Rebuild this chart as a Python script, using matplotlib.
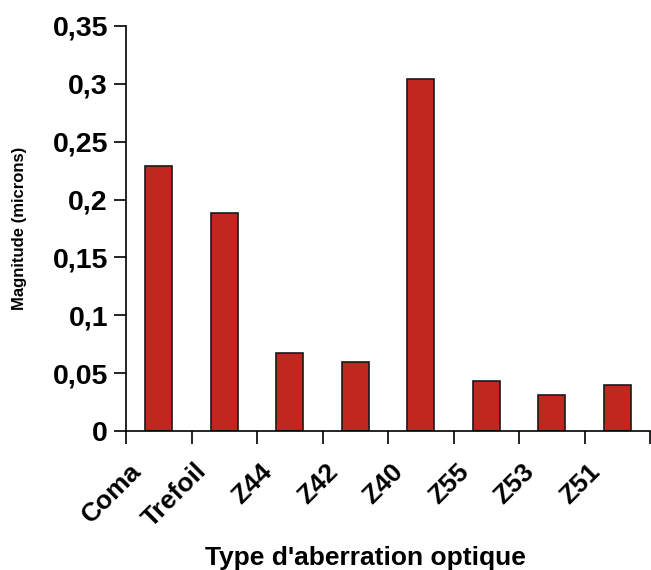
import matplotlib.pyplot as plt
import matplotlib.transforms as mtransforms
from matplotlib.ticker import FixedLocator

# données
categories = ['Coma', 'Trefoil', 'Z44', 'Z42', 'Z40', 'Z55', 'Z53', 'Z51']
magnitudes = [0.229, 0.188, 0.067, 0.060, 0.304, 0.043, 0.031, 0.040]
y_ticks = [0, 0.05, 0.1, 0.15, 0.2, 0.25, 0.3, 0.35]
y_tick_labels = ['0', '0,05', '0,1', '0,15', '0,2', '0,25', '0,3', '0,35']

plt.rcParams['font.family'] = ['Liberation Sans', 'DejaVu Sans']
plt.rcParams['font.weight'] = 'bold'

fig = plt.figure(figsize=(6.51, 5.70), dpi=100)
ax = fig.add_axes([126/651, 139/570, 524/651, 405/570])

x = list(range(len(categories)))
ax.bar(x, magnitudes, width=0.41, color='#C1271E', edgecolor='#1a1a1a', linewidth=1.2)

ax.set_xlim(-0.5, len(categories) - 0.5)
ax.set_ylim(0, 0.35)

# axes
ax.spines['top'].set_visible(False)
ax.spines['right'].set_visible(False)
ax.spines['left'].set_linewidth(1.2)
ax.spines['bottom'].set_linewidth(1.2)

ax.set_yticks(y_ticks)
ax.set_yticklabels(y_tick_labels, fontsize=20.5, fontweight='bold')
ax.tick_params(axis='y', direction='out', length=9, width=1.2, pad=4)

# graduations entre les catégories
ax.set_xticks(x)
ax.set_xticklabels(categories, fontsize=19, fontweight='bold',
                   rotation=45, ha='right', va='center', rotation_mode='anchor')
ax.tick_params(axis='x', which='major', length=0, pad=22)
ax.xaxis.set_minor_locator(FixedLocator([i - 0.5 for i in range(len(categories) + 1)]))
ax.tick_params(axis='x', which='minor', direction='out', length=9, width=1.2)
shift = mtransforms.ScaledTranslation(-21/100, -6/100, fig.dpi_scale_trans)
for lab in ax.get_xticklabels():
    lab.set_transform(lab.get_transform() + shift)

fig.text(365/651, 12/570, "Type d'aberration optique", fontsize=19, fontweight='bold',
         ha='center', va='center')
fig.text(20/651, 342/570, 'Magnitude (microns)', fontsize=12, fontweight='bold',
         ha='center', va='center', rotation=90)

plt.savefig('out.png', dpi=100)
